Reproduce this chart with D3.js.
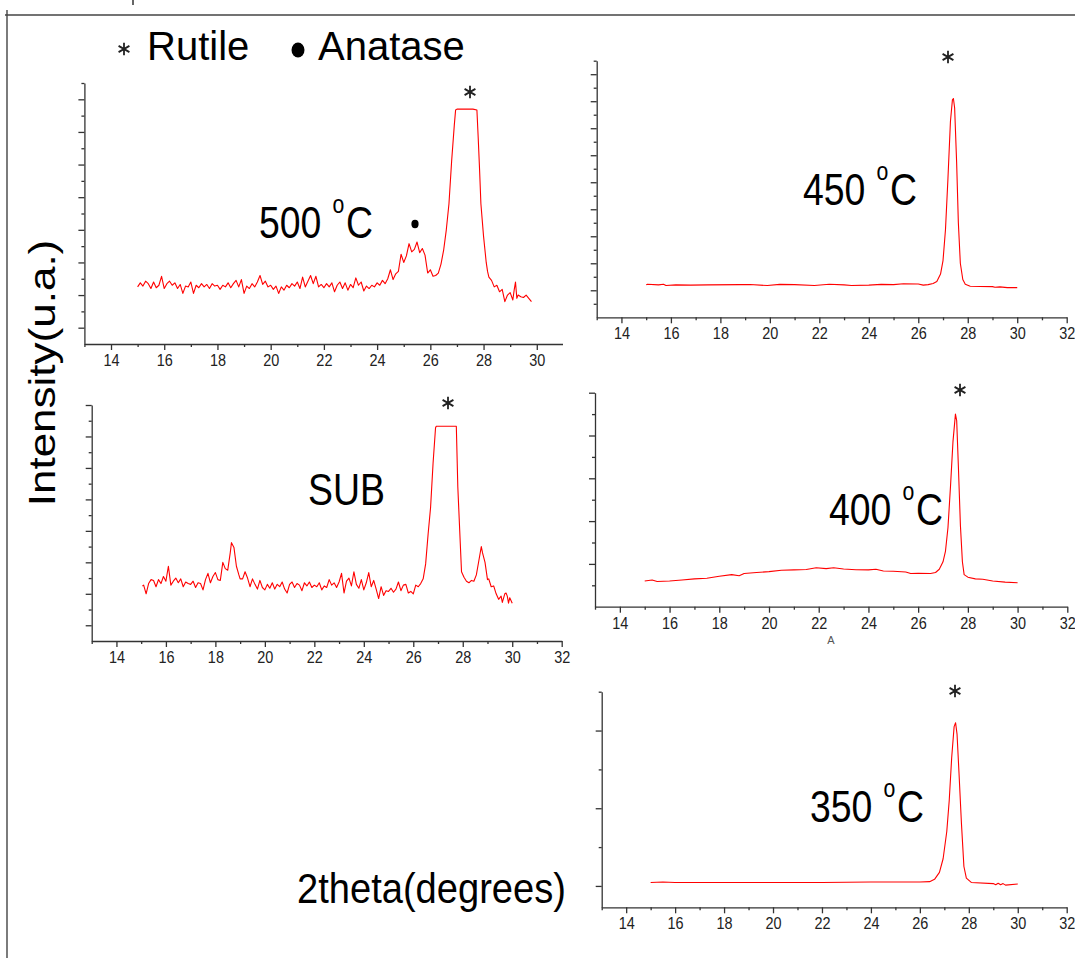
<!DOCTYPE html>
<html>
<head>
<meta charset="utf-8">
<script src="https://cdn.jsdelivr.net/npm/d3@7"></script>
<style>
    body { margin: 0; background: #fff; }
    svg { display: block; font-family: "Liberation Sans", Arial, sans-serif; }
</style>
</head>
<body>
<div id="chart"></div>
<script>
// XRD patterns of TiO2 films, one small panel per annealing temperature

const WIDTH = 1075, HEIGHT = 958;
const SQUEEZE = 0.85; // whole figure was squashed sideways, text included

// 2theta axis ticks (same on every panel)
const thetaMajor = [14, 16, 18, 20, 22, 24, 26, 28, 30, 32];
const thetaMinor = [13, 15, 17, 19, 21, 23, 25, 27, 29, 31];

// y ticks (no labels, arbitrary units)
const yMajor500 = [1, 3, 5, 7, 9, 11, 13, 15];
const yMinor500 = [2, 4, 6, 8, 10, 12, 14, 16];
const yMajor450 = [2, 4, 6, 8, 10, 12, 14, 16, 18];
const yMinor450 = [1, 3, 5, 7, 9, 11, 13, 15, 17, 19];
const yMajorSub = [1, 3, 5, 7, 9, 11, 13, 15];
const yMinorSub = [2, 4, 6, 8, 10, 12, 14];
const yMajor400 = [2, 4, 6, 8, 10];
const yMinor400 = [1, 3, 5, 7, 9];
const yMajor350 = [0, 2, 4];
const yMinor350 = [1, 3, 5];

// [2theta, intensity]
const xrd500 = [
    [15.0, 3.5], [15.1, 3.75], [15.2, 3.55], [15.3, 3.85], [15.4, 3.7], [15.5, 3.4], [15.6, 3.8], [15.7, 3.45],
    [15.8, 3.6], [15.9, 4.15], [16.0, 3.4], [16.1, 3.7], [16.2, 3.85], [16.3, 3.6], [16.4, 3.75], [16.5, 3.4],
    [16.6, 3.65], [16.7, 3.1], [16.8, 3.55], [16.9, 3.5], [17.0, 3.8], [17.1, 3.1], [17.2, 3.6], [17.3, 3.45],
    [17.4, 3.7], [17.5, 3.5], [17.6, 3.65], [17.7, 3.4], [17.8, 3.7], [17.9, 3.55], [18.0, 3.6], [18.1, 3.35],
    [18.2, 3.6], [18.3, 3.5], [18.4, 3.75], [18.5, 3.45], [18.6, 3.7], [18.7, 3.9], [18.8, 3.5], [18.9, 3.95],
    [19.0, 3.1], [19.1, 3.55], [19.2, 3.4], [19.3, 3.7], [19.4, 3.5], [19.5, 3.8], [19.6, 4.2], [19.7, 3.65],
    [19.8, 3.85], [19.9, 3.5], [20.0, 3.6], [20.1, 3.35], [20.2, 3.55], [20.3, 3.1], [20.4, 3.5], [20.5, 3.3],
    [20.6, 3.6], [20.7, 3.45], [20.8, 3.7], [20.9, 3.55], [21.0, 3.8], [21.1, 3.4], [21.2, 4.1], [21.3, 3.5],
    [21.4, 3.85], [21.5, 4.2], [21.6, 3.7], [21.7, 4.15], [21.8, 3.5], [21.9, 3.65], [22.0, 3.45], [22.1, 3.7],
    [22.2, 3.5], [22.3, 3.75], [22.4, 3.2], [22.5, 3.6], [22.6, 3.8], [22.7, 3.4], [22.8, 3.75], [22.9, 3.3],
    [23.0, 3.65], [23.1, 3.45], [23.2, 4.05], [23.3, 3.6], [23.4, 3.8], [23.5, 3.25], [23.6, 3.55], [23.7, 3.4],
    [23.8, 3.6], [23.9, 3.5], [24.0, 3.75], [24.1, 3.6], [24.2, 3.9], [24.3, 3.7], [24.4, 4.0], [24.5, 4.55],
    [24.6, 3.95], [24.7, 4.3], [24.8, 4.45], [24.9, 5.5], [25.0, 5.0], [25.1, 5.4], [25.2, 6.15], [25.3, 5.65],
    [25.4, 5.8], [25.5, 6.25], [25.6, 5.6], [25.7, 5.85], [25.8, 5.45], [25.9, 4.35], [26.0, 4.55], [26.1, 4.15],
    [26.2, 4.2], [26.3, 4.35], [26.4, 4.9], [26.5, 5.75], [26.6, 7.0], [26.7, 8.6], [26.8, 11.2], [26.9, 13.4],
    [26.95, 14.35], [27.0, 14.4], [27.3, 14.4], [27.6, 14.4], [27.75, 14.35], [27.8, 12.6], [27.85, 10.7],
    [27.9, 8.6], [28.0, 6.6], [28.1, 5.0], [28.15, 4.45], [28.2, 4.1], [28.3, 3.9], [28.4, 3.5], [28.5, 3.6],
    [28.6, 3.2], [28.7, 3.35], [28.8, 2.6], [28.9, 3.0], [29.0, 3.15], [29.1, 2.7], [29.15, 3.3], [29.2, 3.8],
    [29.25, 2.8], [29.3, 3.0], [29.4, 2.9], [29.5, 2.85], [29.6, 3.0], [29.7, 2.8], [29.8, 2.6]
];

const xrd450 = [
    [15.0, 2.4], [15.05, 2.45], [15.5, 2.4], [15.7, 2.45], [15.8, 2.35], [16.2, 2.4], [16.8, 2.38], [17.5, 2.4],
    [18.8, 2.42], [19.2, 2.43], [19.9, 2.35], [20.4, 2.44], [21.0, 2.42], [21.8, 2.36], [22.4, 2.45], [23.0, 2.4],
    [23.3, 2.36], [24.0, 2.38], [24.5, 2.44], [25.0, 2.42], [25.4, 2.48], [26.0, 2.47], [26.2, 2.38], [26.4, 2.42],
    [26.6, 2.5], [26.75, 2.65], [26.9, 3.2], [27.0, 4.2], [27.1, 6.5], [27.2, 10.3], [27.3, 14.5], [27.38, 16.1],
    [27.42, 16.2], [27.47, 15.5], [27.55, 11.5], [27.62, 7.0], [27.7, 4.0], [27.8, 2.8], [27.9, 2.45], [28.1, 2.3],
    [28.5, 2.28], [29.0, 2.27], [29.1, 2.22], [29.3, 2.25], [29.6, 2.2], [30.0, 2.2]
];

const xrdSub = [
    [15.05, 3.5], [15.1, 3.55], [15.2, 3.0], [15.3, 3.65], [15.4, 3.9], [15.5, 3.85], [15.6, 3.45], [15.7, 3.9],
    [15.8, 3.65], [15.9, 4.1], [16.0, 3.8], [16.1, 4.75], [16.2, 3.55], [16.3, 3.8], [16.4, 4.0], [16.5, 3.7],
    [16.6, 3.95], [16.7, 3.45], [16.8, 3.75], [16.9, 3.65], [17.0, 3.6], [17.1, 3.8], [17.2, 3.4], [17.3, 3.7],
    [17.4, 3.65], [17.5, 3.25], [17.6, 3.9], [17.7, 4.3], [17.8, 3.7], [17.9, 4.1], [18.0, 4.35], [18.1, 3.9],
    [18.2, 3.85], [18.3, 5.0], [18.4, 4.6], [18.5, 4.5], [18.6, 5.6], [18.65, 6.25], [18.75, 5.95], [18.85, 4.75],
    [18.95, 4.2], [19.0, 3.95], [19.1, 3.95], [19.2, 4.4], [19.3, 4.0], [19.4, 3.45], [19.5, 3.95], [19.6, 3.6],
    [19.7, 3.3], [19.8, 3.85], [19.9, 3.4], [20.0, 3.25], [20.1, 3.6], [20.2, 3.35], [20.3, 3.7], [20.4, 3.3],
    [20.5, 3.6], [20.6, 3.45], [20.7, 3.75], [20.8, 3.3], [20.9, 3.05], [21.0, 3.6], [21.1, 3.75], [21.2, 3.4],
    [21.3, 3.65], [21.4, 3.55], [21.5, 3.2], [21.6, 3.7], [21.7, 3.5], [21.8, 3.75], [21.9, 3.4], [22.0, 3.55],
    [22.1, 3.45], [22.2, 3.7], [22.3, 3.25], [22.4, 3.5], [22.5, 3.4], [22.6, 3.9], [22.7, 3.55], [22.8, 3.7],
    [22.9, 3.4], [23.0, 3.75], [23.1, 4.3], [23.2, 3.05], [23.3, 3.8], [23.4, 4.0], [23.5, 3.5], [23.6, 4.4],
    [23.7, 3.6], [23.8, 3.35], [23.9, 3.9], [24.0, 3.25], [24.1, 3.7], [24.2, 4.35], [24.3, 3.45], [24.4, 3.85],
    [24.5, 3.3], [24.6, 2.7], [24.7, 3.45], [24.8, 2.9], [24.9, 3.2], [25.0, 3.15], [25.1, 3.35], [25.2, 3.1],
    [25.3, 3.3], [25.4, 3.75], [25.5, 3.2], [25.6, 3.55], [25.7, 3.6], [25.8, 3.05], [25.9, 3.15], [26.0, 3.0],
    [26.1, 3.55], [26.2, 3.45], [26.3, 3.65], [26.4, 3.95], [26.5, 4.9], [26.6, 6.8], [26.7, 8.5], [26.8, 11.3],
    [26.9, 13.55], [26.93, 13.65], [27.2, 13.65], [27.5, 13.65], [27.74, 13.65], [27.8, 9.8], [27.9, 6.2],
    [27.95, 4.4], [28.05, 4.05], [28.15, 3.8], [28.25, 3.7], [28.35, 3.85], [28.45, 3.8], [28.55, 4.2],
    [28.65, 5.1], [28.75, 6.0], [28.8, 5.6], [28.9, 5.0], [29.0, 3.9], [29.05, 3.95], [29.15, 3.45], [29.25, 3.5],
    [29.35, 3.0], [29.45, 2.65], [29.55, 2.85], [29.6, 2.45], [29.7, 3.0], [29.75, 3.05], [29.8, 2.85],
    [29.85, 2.4], [29.9, 2.75], [30.0, 2.4]
];

const xrd400 = [
    [15.0, 1.2], [15.3, 1.25], [15.5, 1.18], [16.0, 1.2], [16.5, 1.25], [17.0, 1.3], [17.5, 1.33], [18.0, 1.42],
    [18.5, 1.5], [18.8, 1.45], [19.0, 1.55], [19.5, 1.6], [20.0, 1.64], [20.5, 1.7], [21.0, 1.72], [21.5, 1.74],
    [21.9, 1.82], [22.3, 1.78], [22.6, 1.82], [23.0, 1.76], [23.5, 1.73], [24.0, 1.72], [24.3, 1.75], [24.6, 1.67],
    [25.0, 1.66], [25.5, 1.62], [25.7, 1.55], [26.0, 1.56], [26.5, 1.55], [26.7, 1.6], [26.85, 1.75], [27.0, 2.1],
    [27.1, 2.6], [27.2, 3.7], [27.3, 5.6], [27.4, 7.7], [27.5, 9.0], [27.55, 8.7], [27.62, 6.5], [27.7, 3.8],
    [27.78, 2.1], [27.85, 1.5], [28.0, 1.38], [28.3, 1.3], [28.6, 1.28], [29.0, 1.2], [29.5, 1.15], [30.0, 1.12]
];

const xrd350 = [
    [15.0, 0.09], [15.5, 0.1], [16.0, 0.09], [17.0, 0.09], [18.0, 0.09], [20.0, 0.09], [22.0, 0.09], [24.0, 0.1],
    [26.0, 0.1], [26.4, 0.11], [26.6, 0.17], [26.8, 0.35], [26.95, 0.7], [27.1, 1.4], [27.2, 2.2], [27.3, 3.3],
    [27.4, 4.1], [27.46, 4.2], [27.52, 3.9], [27.6, 2.9], [27.7, 1.6], [27.8, 0.5], [27.9, 0.2], [28.1, 0.09],
    [29.0, 0.06], [29.1, 0.03], [29.2, 0.07], [29.3, 0.03], [29.4, 0.06], [29.5, 0.02], [30.0, 0.05]
];

// panel placement on the page
const PANELS = [
    { data: xrd500, xRange: [84.4, 590], yRange: [344, 83], yDomain: [0, 16], yMajor: yMajor500, yMinor: yMinor500,
      clipRight: 563, name: "500", nameAt: [259, 238], star: [470, 92], dot: [415, 224] },
    { data: xrd450, xRange: [596.7, 1066.7], yRange: [317.3, 60.7], yDomain: [0, 19], yMajor: yMajor450, yMinor: yMinor450,
      name: "450", nameAt: [803, 205], star: [948, 57] },
    { data: xrdSub, xRange: [91.7, 561.7], yRange: [641, 405], yDomain: [0, 15], yMajor: yMajorSub, yMinor: yMinorSub,
      name: "SUB", nameAt: [308, 505], plain: true, star: [448, 403] },
    { data: xrd400, xRange: [595, 1067.3], yRange: [606.7, 392.7], yDomain: [0, 10], yMajor: yMajor400, yMinor: yMinor400,
      name: "400", nameAt: [829, 525], star: [960, 390] },
    { data: xrd350, xRange: [601.7, 1066.7], yRange: [907.3, 691.7], yDomain: [-0.55, 5], yMajor: yMajor350, yMinor: yMinor350,
      name: "350", nameAt: [810, 822], star: [955, 691] }
];

let svg = d3.select("#chart").append("svg")
    .attr("width", WIDTH)
    .attr("height", HEIGHT);

svg.append("rect").attr("width", WIDTH).attr("height", HEIGHT).attr("fill", "#fff");

// page frame left over from the original document
svg.append("line").attr("x1", 5).attr("x2", WIDTH).attr("y1", 15).attr("y2", 15)
    .attr("stroke", "#444").attr("stroke-width", 1.4);
svg.append("line").attr("x1", 7).attr("x2", 7).attr("y1", 10).attr("y2", HEIGHT)
    .attr("stroke", "#444").attr("stroke-width", 1.4);
// bit of a cut off letter above the frame
svg.append("line").attr("x1", 133).attr("x2", 133).attr("y1", 0).attr("y2", 5)
    .attr("stroke", "#333").attr("stroke-width", 1.5);

/**
 * squeezed text helper, x is the left edge unless anchor is given
 */
function squeezedText(parent, x, y, size, txt, anchor) {
    return parent.append("text")
        .attr("transform", "translate(" + x + "," + y + ") scale(" + SQUEEZE + ",1)")
        .attr("font-size", size)
        .attr("text-anchor", anchor || "start")
        .attr("fill", "#000")
        .text(txt);
}

const asterisk = d3.symbol().type(d3.symbolAsterisk).size(110);

function star(parent, cx, cy) {
    parent.append("path")
        .attr("transform", "translate(" + cx + "," + cy + ")")
        .attr("d", asterisk())
        .attr("fill", "none")
        .attr("stroke", "#222")
        .attr("stroke-width", 1.8);
}

function drawPanel(p, i) {
    let g = svg.append("g");
    if (p.clipRight) {
        svg.append("clipPath").attr("id", "clip" + i)
            .append("rect").attr("x", 0).attr("y", 0).attr("width", p.clipRight).attr("height", HEIGHT);
        g.attr("clip-path", "url(#clip" + i + ")");
    }

    const x = d3.scaleLinear().domain([13, 32]).range(p.xRange);
    const y = d3.scaleLinear().domain(p.yDomain).range(p.yRange);
    const base = p.yRange[0];

    // x axis, long ticks with labels then short unlabelled ones
    let xAxis = g.append("g")
        .attr("transform", "translate(0," + base + ")")
        .call(d3.axisBottom(x).tickValues(thetaMajor).tickSize(6).tickSizeOuter(0).tickPadding(4)
            .tickFormat(d3.format("d")));
    xAxis.selectAll("text")
        .attr("transform", "scale(" + SQUEEZE + ",1)")
        .attr("font-size", 17)
        .attr("font-family", "Liberation Sans, Arial, sans-serif")
        .attr("fill", "#222");
    g.append("g")
        .attr("transform", "translate(0," + base + ")")
        .call(d3.axisBottom(x).tickValues(thetaMinor).tickSize(3).tickFormat(""))
        .select(".domain").remove();

    // y axis, no labels
    g.append("g")
        .attr("transform", "translate(" + p.xRange[0] + ",0)")
        .call(d3.axisLeft(y).tickValues(p.yMajor).tickSize(6).tickSizeOuter(0).tickFormat(""));
    g.append("g")
        .attr("transform", "translate(" + p.xRange[0] + ",0)")
        .call(d3.axisLeft(y).tickValues(p.yMinor).tickSize(3).tickFormat(""))
        .select(".domain").remove();

    g.selectAll(".domain, .tick line").attr("stroke", "#333").attr("stroke-width", 1.3);

    const line = d3.line()
        .x(function (d) { return x(d[0]); })
        .y(function (d) { return y(d[1]); });
    g.append("path")
        .datum(p.data)
        .attr("d", line)
        .attr("fill", "none")
        .attr("stroke", "#ff0000")
        .attr("stroke-width", 1.1)
        .attr("stroke-linejoin", "round");

    // temperature label, "500 oC" with a raised o
    squeezedText(svg, p.nameAt[0], p.nameAt[1], 44, p.name);
    if (!p.plain) {
        squeezedText(svg, p.nameAt[0] + 73.5, p.nameAt[1] - 25, 25, "o");
        squeezedText(svg, p.nameAt[0] + 87, p.nameAt[1], 44, "C");
    }

    star(svg, p.star[0], p.star[1]);
    if (p.dot) {
        svg.append("ellipse").attr("cx", p.dot[0]).attr("cy", p.dot[1])
            .attr("rx", 3.6).attr("ry", 4.2).attr("fill", "#000");
    }
}

PANELS.forEach(drawPanel);

// stray letter under the 400 panel
svg.append("text").attr("x", 831).attr("y", 644).attr("text-anchor", "middle")
    .attr("font-size", 11).attr("fill", "#555").text("A");

// legend
star(svg, 124, 49);
svg.append("text").attr("x", 147).attr("y", 60).attr("font-size", 40).text("Rutile");
svg.append("ellipse").attr("cx", 298).attr("cy", 50).attr("rx", 6.5).attr("ry", 7.5).attr("fill", "#000");
svg.append("text").attr("x", 318).attr("y", 60).attr("font-size", 40).text("Anatase");

// axis titles shared by all panels
svg.append("text")
    .attr("transform", "translate(55,373) scale(" + SQUEEZE + ",1) rotate(-90)")
    .attr("text-anchor", "middle")
    .attr("font-size", 44)
    .text("Intensity(u.a.)");
squeezedText(svg, 297, 903, 43, "2theta(degrees)")
    .attr("textLength", 269 / SQUEEZE)
    .attr("lengthAdjust", "spacingAndGlyphs");
</script>
</body>
</html>
